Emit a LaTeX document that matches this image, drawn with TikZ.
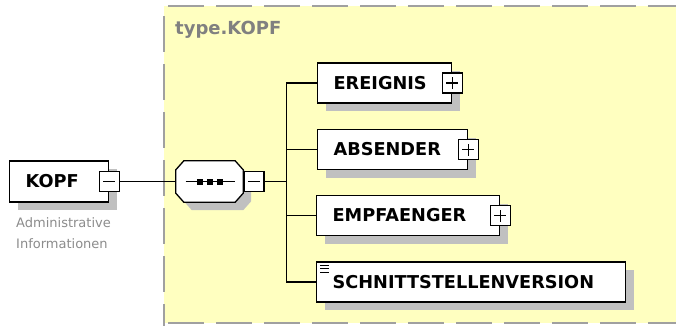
\documentclass[tikz,border=0pt]{standalone}
\usepackage{fontspec}
\setmainfont{DejaVu Sans}
\usepackage{xcolor}
\usetikzlibrary{shadows}
\definecolor{typeyellow}{RGB}{255,255,192}
\definecolor{shadowgray}{RGB}{192,192,192}
\definecolor{labelgray}{RGB}{128,128,128}
\definecolor{docgray}{RGB}{140,140,140}
\definecolor{dashgray}{RGB}{160,160,160}
\tikzset{
    element-box/.style = {draw, fill=white, line width=1.3pt, rectangle, anchor=west, minimum height=40pt, inner xsep=16pt, inner ysep=0pt, align=left, font=\bfseries\fontsize{17.7}{21}\selectfont, drop shadow={shadow xshift=8pt, shadow yshift=-8pt, opacity=1, fill=shadowgray}},
    toggle-box/.style = {draw, fill=white, line width=1.3pt, rectangle, minimum size=20pt, inner sep=0pt},
    seq-frame/.style = {rectangle, minimum width=67pt, minimum height=41pt, inner sep=0pt},
    seq-box/.style = {draw, fill=white, line width=1.3pt, drop shadow={shadow xshift=8pt, shadow yshift=-8pt, opacity=1, fill=shadowgray}},
    type-border/.style = {draw=dashgray, line width=2pt, dash pattern=on 36pt off 12pt},
    connector/.style = {draw, line width=1.5pt},
}
% octagon round a node, corners cut by 8pt x 9pt
\newcommand{\octagonpath}[1]{([shift={(8,0)}]#1.north west) -- ([shift={(-8,0)}]#1.north east) -- ([shift={(0,9)}]#1.north east) -- ([shift={(0,-9)}]#1.south east) -- ([shift={(-8,0)}]#1.south east) -- ([shift={(8,0)}]#1.south west) -- ([shift={(0,-9)}]#1.south west) -- ([shift={(0,9)}]#1.north west) -- cycle}

\begin{document}
\begin{tikzpicture}[x=1pt, y=-1pt]
\path[use as bounding box, fill=white] (0,0) rectangle (676,325);
\clip (0,0) rectangle (676,325);

% complex type area
\fill[typeyellow] (164,6) rectangle (720,323);
\draw[type-border, dash phase=38pt] (164,6) -- (164,340);
\draw[type-border, dash phase=44pt] (164,6) -- (720,6);
\draw[type-border, dash phase=44pt] (164,323) -- (720,323);
\node[anchor=base west, text=labelgray, font=\bfseries\fontsize{18}{21}\selectfont, inner sep=0pt] (type-title) at (175,34) {type.KOPF};

% root element
\node[element-box, text width=67pt, minimum height=41pt] (kopf) at (9,181.5) {KOPF};
\node[toggle-box] (kopf-toggle) at (kopf.east) {};
\draw[line width=1.3pt] ([xshift=-6pt]kopf-toggle.center) -- ([xshift=6pt]kopf-toggle.center);
\node[anchor=north west, align=left, text=docgray, font=\fontsize{13}{21}\selectfont, inner sep=0pt] (kopf-doc) at (16,217) {Administrative\\Informationen};

% sequence
\node[seq-frame] (seq) at (209.5,181.5) {};
\path[seq-box] \octagonpath{seq};
\draw[line width=1.5pt] ([xshift=-24pt]seq.center) -- ([xshift=25pt]seq.center);
\foreach \dx in {-10,0,10}
    \fill ([xshift=\dx pt]seq.center) ++(-3,-3) rectangle ++(6,6);
\node[toggle-box, anchor=west] (seq-toggle) at (seq.east) {};
\draw[line width=1.3pt] ([xshift=-6pt]seq-toggle.center) -- ([xshift=6pt]seq-toggle.center);
\draw[connector] (kopf-toggle.east) -- (seq.west);

% child elements
\node[element-box, text width=102pt] (ereignis) at (317,83) {EREIGNIS};
\node[element-box, text width=118pt] (absender) at (317,149.5) {ABSENDER};
\node[element-box, text width=151pt] (empfaenger) at (316,215.5) {EMPFAENGER};
\node[element-box, text width=277pt] (schnitt) at (316,282) {SCHNITTSTELLENVERSION};
\foreach \dy in {4,7.5,11}
    \draw[line width=1pt] ([shift={(4,\dy)}]schnitt.north west) -- ++(9,0);

\foreach \n in {ereignis,absender,empfaenger} {
    \node[toggle-box] (\n-toggle) at (\n.east) {};
    \draw[line width=1.3pt] ([xshift=-6pt]\n-toggle.center) -- ([xshift=6pt]\n-toggle.center)
          ([yshift=-6pt]\n-toggle.center) -- ([yshift=6pt]\n-toggle.center);
}
\foreach \n in {ereignis,absender,empfaenger,schnitt}
    \draw[connector] (seq-toggle.east) -- ++(22,0) |- (\n.west);
\end{tikzpicture}
\end{document}
